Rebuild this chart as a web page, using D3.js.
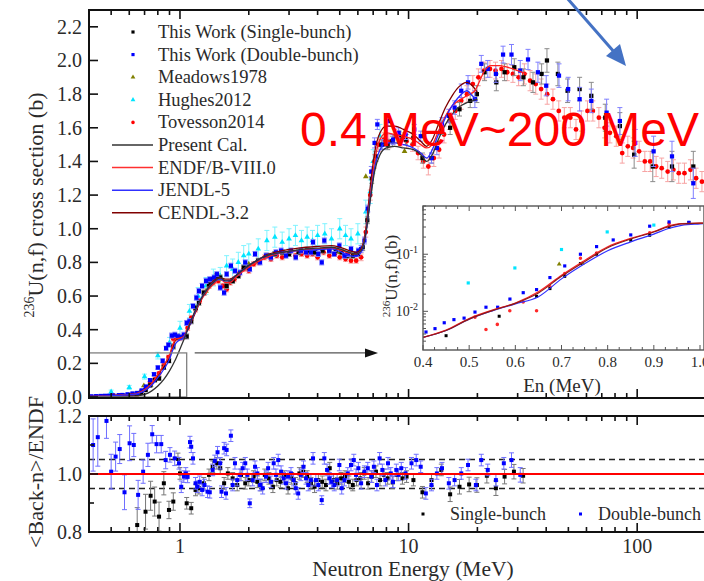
<!DOCTYPE html>
<html>
<head>
<meta charset="utf-8">
<script src="https://cdn.jsdelivr.net/npm/d3@7"></script>
<style>
  body { margin: 0; background: #fff; }
  svg { display: block; }
  text { font-family: "Liberation Serif", "Times New Roman", serif; fill: #2a2a2a; }
</style>
</head>
<body>
<svg id="chart" width="704" height="581"></svg>
<script>
// ---- data: [E (MeV), value, error] ----
const singleBunch = [
  [0.45,0.0037,0.002],[0.565,0.008,0.003],[0.646,0.018,0.004],[0.675,0.025,0.005],[0.707,0.041,0.006],
  [0.741,0.069,0.008],[0.776,0.10,0.01],[0.81,0.11,0.01],[0.85,0.176,0.012],[0.895,0.215,0.012],
  [0.935,0.30,0.015],[0.976,0.36,0.015],[1.0,0.355,0.015],[1.07,0.36,0.015],[1.12,0.45,0.015],
  [1.17,0.53,0.015],[1.21,0.56,0.015],[1.27,0.62,0.015],[1.34,0.67,0.015],[1.39,0.70,0.015],
  [1.45,0.72,0.015],[1.5,0.71,0.015],[1.6,0.66,0.015],[1.7,0.69,0.015],[1.8,0.72,0.015],
  [1.9,0.77,0.015],[2.0,0.77,0.015],[2.2,0.81,0.015],[2.4,0.84,0.015],[2.6,0.85,0.015],
  [2.8,0.86,0.015],[3.0,0.85,0.015],[3.3,0.86,0.015],[3.6,0.87,0.015],[3.9,0.86,0.015],
  [4.2,0.87,0.015],[4.5,0.87,0.015],[4.8,0.87,0.015],[5.1,0.86,0.015],[5.4,0.84,0.015],
  [5.7,0.84,0.015],[6.0,0.85,0.015],[6.3,0.89,0.02],[6.6,1.05,0.02],[6.9,1.30,0.03],
  [7.2,1.43,0.03],[7.6,1.50,0.03],[8.1,1.50,0.03],[8.5,1.52,0.03],[9.1,1.55,0.03],
  [9.7,1.53,0.03],[10.5,1.54,0.03],[11.5,1.42,0.03],[12.6,1.42,0.03],[13.9,1.60,0.04],
  [15.2,1.60,0.04],[16.7,1.71,0.04],[18.6,1.76,0.04],[19.9,1.80,0.05],[21.5,1.93,0.05],
  [24.2,1.87,0.05],[26.3,1.93,0.05],[29.0,1.96,0.05],[31.8,1.90,0.05],[35.0,1.87,0.06],
  [38.2,1.92,0.06],[40.3,2.00,0.07],[45.0,1.92,0.07],[49.6,1.82,0.07],[56.0,1.83,0.07],
  [63.0,1.79,0.08],[72.5,1.66,0.08],[84.0,1.61,0.08],[97.0,1.44,0.08],[117.0,1.37,0.09],
  [142.0,1.37,0.09],[176.0,1.37,0.09]
];
const doubleBunch = [
  [0.41,0.004,0.002],[0.43,0.005,0.002],[0.45,0.006,0.002],[0.47,0.007,0.002],[0.49,0.0075,0.002],
  [0.51,0.009,0.003],[0.54,0.011,0.003],[0.56,0.012,0.003],[0.59,0.016,0.004],[0.62,0.021,0.004],
  [0.65,0.024,0.005],[0.68,0.039,0.006],[0.71,0.062,0.007],[0.74,0.10,0.008],[0.77,0.135,0.01],
  [0.80,0.175,0.01],[0.84,0.215,0.012],[0.87,0.29,0.012],[0.89,0.31,0.012],[0.92,0.365,0.015],
  [0.95,0.37,0.015],[0.98,0.36,0.015],[1.01,0.355,0.015],[1.04,0.37,0.015],[1.07,0.44,0.015],
  [1.10,0.45,0.015],[1.14,0.54,0.015],[1.18,0.59,0.015],[1.21,0.63,0.015],[1.25,0.66,0.015],
  [1.30,0.69,0.015],[1.35,0.70,0.015],[1.41,0.71,0.015],[1.45,0.73,0.015],[1.50,0.65,0.015],
  [1.56,0.62,0.015],[1.60,0.73,0.015],[1.67,0.78,0.015],[1.74,0.75,0.015],[1.83,0.74,0.015],
  [1.93,0.80,0.015],[2.02,0.76,0.015],[2.13,0.85,0.015],[2.24,0.80,0.015],[2.38,0.84,0.015],
  [2.50,0.83,0.015],[2.63,0.86,0.015],[2.77,0.87,0.015],[2.91,0.84,0.015],[3.06,0.87,0.015],
  [3.21,0.83,0.015],[3.38,0.87,0.015],[3.56,0.86,0.015],[3.74,0.86,0.015],[3.82,0.92,0.015],
  [4.03,0.85,0.015],[4.17,0.80,0.015],[4.28,0.93,0.015],[4.50,0.87,0.015],[4.73,0.85,0.015],
  [4.98,0.90,0.015],[5.24,0.84,0.015],[5.42,0.85,0.015],[5.60,0.88,0.015],[5.89,0.85,0.015],
  [6.03,0.87,0.015],[6.20,0.88,0.02],[6.41,0.93,0.02],[6.63,1.12,0.02],[6.87,1.34,0.03],
  [7.10,1.51,0.03],[7.30,1.62,0.03],[7.70,1.50,0.03],[8.13,1.64,0.03],[8.55,1.53,0.03],
  [9.05,1.57,0.03],[9.70,1.56,0.03],[10.6,1.59,0.03],[11.3,1.55,0.03],[12.6,1.42,0.03],
  [13.3,1.48,0.04],[14.0,1.62,0.04],[15.0,1.67,0.04],[15.9,1.72,0.04],[17.0,1.82,0.04],
  [18.2,1.87,0.04],[19.5,1.77,0.05],[20.8,1.98,0.05],[22.2,1.95,0.05],[24.1,1.92,0.05],
  [25.9,2.035,0.05],[28.2,2.035,0.06],[30.8,1.94,0.06],[33.3,2.006,0.06],[36.8,1.93,0.06],
  [40.0,1.85,0.06],[45.5,1.91,0.07],[49.9,1.83,0.07],[56.0,1.77,0.07],[63.0,1.76,0.07],
  [73.5,1.69,0.08],[84.0,1.64,0.08],[98.0,1.51,0.08],[118.0,1.46,0.09],[142.0,1.43,0.09],
  [176.0,1.27,0.09]
];
const meadows1978 = [
  [0.695,0.067,0.004],[0.745,0.070,0.005],[0.80,0.12,0.006],[1.3,0.63,0.02],[1.5,0.70,0.02],
  [2.0,0.79,0.02],[3.0,0.86,0.02],[5.0,0.86,0.02],[6.5,1.31,0.03],[9.6,1.46,0.03]
];
const hughes2012 = [
  [0.5,0.031,0.01],[0.6,0.057,0.012],[0.7,0.121,0.015],[0.8,0.246,0.02],[0.9,0.324,0.03],
  [1.0,0.41,0.04],[1.1,0.51,0.04],[1.2,0.60,0.05],[1.3,0.66,0.05],[1.4,0.71,0.05],
  [1.5,0.72,0.05],[1.6,0.78,0.06],[1.7,0.76,0.06],[1.8,0.80,0.06],[1.9,0.84,0.06],
  [2.0,0.85,0.06],[2.2,0.88,0.06],[2.4,0.93,0.06],[2.6,0.95,0.06],[2.8,0.92,0.06],
  [3.0,0.94,0.06],[3.2,0.96,0.06],[3.4,0.93,0.06],[3.6,0.95,0.06],[3.8,0.93,0.06],
  [4.0,0.96,0.06],[4.3,0.97,0.06],[4.6,0.94,0.06],[5.0,1.00,0.06],[5.3,0.96,0.06],
  [5.6,0.94,0.06],[6.0,0.97,0.06],[6.5,1.10,0.07],[6.8,1.22,0.07],[7.0,1.40,0.07],[7.5,1.55,0.07]
];
const tovesson2014 = [
  [0.5126,0.0079,0.002],[0.536,0.0048,0.002],[0.561,0.0059,0.002],[0.588,0.0102,0.003],[0.617,0.0146,0.003],
  [0.646,0.0102,0.003],[0.675,0.027,0.004],[0.707,0.046,0.005],[0.741,0.085,0.006],[0.776,0.105,0.008],
  [0.81,0.14,0.01],[0.85,0.19,0.01],[0.891,0.237,0.012],[0.933,0.347,0.015],[0.97,0.35,0.015],
  [1.0,0.35,0.015],[1.04,0.36,0.015],[1.08,0.41,0.015],[1.12,0.47,0.015],[1.17,0.52,0.015],
  [1.22,0.57,0.015],[1.28,0.62,0.015],[1.34,0.66,0.015],[1.40,0.68,0.015],[1.47,0.69,0.015],
  [1.54,0.66,0.015],[1.60,0.64,0.015],[1.66,0.68,0.015],[1.73,0.70,0.015],[1.81,0.73,0.015],
  [1.9,0.76,0.015],[2.0,0.75,0.015],[2.1,0.79,0.015],[2.2,0.80,0.015],[2.35,0.83,0.015],
  [2.5,0.82,0.015],[2.65,0.84,0.015],[2.8,0.83,0.015],[3.0,0.85,0.015],[3.2,0.84,0.015],
  [3.4,0.85,0.015],[3.6,0.84,0.015],[3.8,0.85,0.015],[4.0,0.83,0.015],[4.25,0.86,0.015],
  [4.5,0.84,0.015],[4.75,0.85,0.015],[5.0,0.83,0.015],[5.3,0.82,0.015],[5.6,0.81,0.015],
  [5.9,0.81,0.015],[6.2,0.83,0.02],[6.5,0.98,0.03],[6.8,1.20,0.03],[7.1,1.40,0.04],
  [7.4,1.50,0.04],[7.8,1.53,0.04],[8.2,1.52,0.04],[8.7,1.55,0.04],[9.2,1.53,0.04],
  [9.8,1.52,0.04],[10.4,1.50,0.04],[11.0,1.45,0.04],[11.6,1.40,0.04],[12.2,1.37,0.05],
  [12.9,1.42,0.05],[13.6,1.47,0.05],[14.3,1.56,0.05],[15.1,1.64,0.05],[16.0,1.70,0.05],
  [17.0,1.76,0.05],[18.0,1.80,0.05],[19.1,1.86,0.05],[20.2,1.90,0.05],[21.4,1.94,0.05],
  [22.7,1.95,0.05],[24.0,1.94,0.05],[25.5,1.95,0.05],[27.0,1.93,0.05],[28.6,1.92,0.05],
  [30.3,1.90,0.05],[32.1,1.92,0.06],[34.0,1.88,0.06],[36.0,1.86,0.06],[38.0,1.83,0.06],
  [40.4,1.80,0.06],[42.8,1.77,0.06],[45.4,1.70,0.06],[48.0,1.66,0.06],[51.0,1.66,0.06],
  [54.0,1.59,0.06],[57.0,1.64,0.06],[60.6,1.70,0.06],[64.0,1.70,0.06],[68.0,1.66,0.06],
  [72.0,1.60,0.06],[76.0,1.57,0.06],[81.0,1.55,0.06],[86.0,1.45,0.06],[91.0,1.49,0.06],
  [96.0,1.48,0.06],[102.0,1.46,0.06],[108.0,1.40,0.06],[114.0,1.40,0.06],[121.0,1.37,0.06],
  [128.0,1.36,0.06],[136.0,1.34,0.06],[144.0,1.35,0.06],[152.0,1.33,0.06],[161.0,1.33,0.06],
  [171.0,1.35,0.06],[181.0,1.30,0.06],[192.0,1.28,0.06],[203.0,1.25,0.06]
];

// evaluated curves: [E, sigma]
const presentCal = [
  [0.4,0.0003],[0.55,0.001],[0.6,0.003],[0.65,0.007],[0.7,0.015],[0.75,0.035],[0.8,0.065],[0.85,0.105],
  [0.9,0.155],[0.95,0.215],[1.0,0.285],[1.05,0.355],[1.1,0.43],[1.2,0.55],[1.3,0.63],[1.4,0.68],
  [1.5,0.71],[1.58,0.69],[1.65,0.69],[1.75,0.72],[1.9,0.76],[2.1,0.80],[2.4,0.84],[2.8,0.86],
  [3.3,0.875],[4.0,0.885],[4.6,0.89],[5.0,0.88],[5.5,0.86],[5.9,0.85],[6.2,0.87],[6.5,0.97],
  [6.8,1.17],[7.1,1.34],[7.5,1.44],[8.0,1.48],[8.7,1.49],[9.5,1.48],[10.5,1.47],[11.3,1.44],
  [12.0,1.40],[12.7,1.44],[13.5,1.53],[14.5,1.62],[15.5,1.68],[16.5,1.72],[18.0,1.75],[19.0,1.76],[20.0,1.77]
];
const endfB8 = [
  [0.4,0.0035],[0.45,0.0047],[0.5,0.0075],[0.55,0.0105],[0.6,0.014],[0.65,0.022],[0.7,0.043],[0.75,0.078],
  [0.8,0.135],[0.85,0.19],[0.9,0.25],[0.93,0.31],[0.96,0.345],[1.0,0.35],[1.04,0.36],[1.08,0.41],
  [1.15,0.49],[1.22,0.56],[1.3,0.62],[1.4,0.67],[1.5,0.70],[1.58,0.68],[1.65,0.68],[1.75,0.71],
  [1.9,0.75],[2.1,0.79],[2.4,0.83],[2.8,0.86],[3.3,0.87],[4.0,0.88],[4.6,0.885],[5.0,0.875],
  [5.5,0.855],[5.9,0.85],[6.2,0.87],[6.5,0.98],[6.8,1.20],[7.1,1.40],[7.5,1.53],[8.0,1.57],
  [8.7,1.56],[9.5,1.55],[10.5,1.53],[11.3,1.50],[12.0,1.48],[12.7,1.50],[13.5,1.58],[14.5,1.67],
  [15.5,1.73],[16.5,1.76],[18.0,1.79],[19.5,1.82],[20.5,1.88],[21.5,1.94],[23.0,1.97],[25.0,1.97],
  [27.0,1.96],[30.0,1.94],[33.0,1.92]
];
const jendl5 = [
  [0.4,0.0035],[0.45,0.0046],[0.5,0.0073],[0.55,0.0102],[0.6,0.0135],[0.65,0.018],[0.7,0.037],[0.75,0.068],
  [0.8,0.115],[0.85,0.165],[0.9,0.225],[0.93,0.28],[0.96,0.32],[1.0,0.34],[1.04,0.355],[1.08,0.40],
  [1.15,0.49],[1.22,0.57],[1.3,0.63],[1.4,0.68],[1.5,0.70],[1.58,0.69],[1.65,0.69],[1.75,0.72],
  [1.9,0.76],[2.1,0.80],[2.4,0.84],[2.8,0.86],[3.3,0.87],[4.0,0.875],[4.6,0.88],[5.0,0.865],
  [5.5,0.84],[5.9,0.835],[6.2,0.86],[6.5,0.97],[6.8,1.18],[7.1,1.36],[7.5,1.47],[8.0,1.51],
  [8.7,1.51],[9.5,1.50],[10.5,1.48],[11.3,1.45],[12.0,1.42],[12.7,1.47],[13.5,1.56],[14.5,1.66],
  [15.5,1.73],[16.5,1.78],[18.0,1.82],[19.0,1.79],[20.0,1.76]
];
const cendl32 = [
  [0.4,0.0035],[0.45,0.0046],[0.5,0.0073],[0.55,0.0103],[0.6,0.0138],[0.65,0.021],[0.7,0.041],[0.75,0.074],
  [0.8,0.13],[0.85,0.185],[0.9,0.245],[0.93,0.30],[0.96,0.34],[1.0,0.35],[1.04,0.36],[1.08,0.40],
  [1.15,0.48],[1.22,0.56],[1.3,0.63],[1.4,0.69],[1.5,0.71],[1.58,0.70],[1.65,0.70],[1.75,0.72],
  [1.9,0.76],[2.1,0.80],[2.4,0.845],[2.8,0.87],[3.3,0.885],[4.0,0.895],[4.6,0.90],[5.0,0.89],
  [5.5,0.87],[5.9,0.86],[6.2,0.88],[6.5,1.0],[6.8,1.25],[7.1,1.45],[7.5,1.57],[8.0,1.61],
  [8.7,1.61],[9.5,1.59],[10.5,1.56],[11.3,1.52],[12.0,1.49],[12.7,1.53],[13.5,1.62],[14.5,1.72],
  [15.5,1.79],[16.5,1.84],[18.0,1.87],[19.0,1.85],[20.0,1.81]
];

// inset (0.4 - 1 MeV, log scale)
const insetSingle = [
  [0.45,0.00374],[0.565,0.0082],[0.646,0.0183],[0.675,0.025],[0.707,0.041],[0.741,0.0686],
  [0.776,0.10],[0.85,0.176],[0.891,0.215],[0.933,0.30],[0.976,0.36]
];
const insetDouble = [
  [0.4065,0.00434],[0.426,0.00497],[0.446,0.0063],[0.467,0.00715],[0.489,0.0076],[0.5126,0.0097],
  [0.5364,0.0118],[0.5617,0.0118],[0.5883,0.0164],[0.6171,0.0212],[0.646,0.024],[0.6749,0.039],
  [0.707,0.0624],[0.741,0.10],[0.776,0.136],[0.812,0.178],[0.85,0.218],[0.891,0.31],[0.933,0.368],[0.976,0.363]
];
const insetMeadows = [[0.695,0.0668],[0.745,0.069]];
const insetHughes = [[0.498,0.0314],[0.599,0.0575],[0.70,0.121],[0.799,0.246],[0.90,0.324]];
const insetTovesson = [
  [0.5126,0.0079],[0.5364,0.0048],[0.561,0.0059],[0.588,0.0102],[0.617,0.0146],[0.646,0.0102],
  [0.675,0.027],[0.707,0.046],[0.741,0.085],[0.776,0.105],[0.891,0.237],[0.933,0.347]
];

// ratio panel: [E, <Back-n>/ENDF, error]
const ratioSingle = [
  [0.65,0.824,0.06],[0.707,0.87,0.06],[0.744,0.925,0.05],[0.775,0.905,0.05],[0.81,0.853,0.05],
  [0.85,0.968,0.04],[0.895,0.876,0.03],[0.935,0.905,0.03],[0.98,1.052,0.02],[1.0,1.002,0.02],
  [1.07,0.899,0.02],[1.12,0.882,0.02],[1.17,0.945,0.02],[1.21,0.951,0.02],[1.27,0.968,0.02],
  [1.34,0.997,0.02],[1.39,1.025,0.02],[1.45,1.037,0.02],[1.5,1.02,0.02],[1.56,0.968,0.02],
  [1.62,1.002,0.02],[1.7,0.985,0.02],[1.78,0.962,0.02],[1.85,0.997,0.02],[1.93,0.968,0.02],
  [2.0,0.979,0.02],[2.1,0.991,0.02],[2.18,0.973,0.02],[2.26,0.962,0.02],[2.35,0.997,0.02],
  [2.45,0.985,0.02],[2.55,0.956,0.02],[2.65,0.979,0.02],[2.75,0.973,0.02],[2.86,0.991,0.02],
  [2.97,0.951,0.02],[3.08,0.985,0.02],[3.2,0.968,0.02],[3.33,1.002,0.02],[3.46,1.008,0.02],
  [3.6,0.991,0.02],[3.74,0.968,0.02],[3.88,0.956,0.02],[4.03,0.979,0.02],[4.19,0.973,0.02],
  [4.35,0.962,0.02],[4.52,1.02,0.02],[4.7,0.979,0.02],[4.88,0.968,0.02],[5.07,0.985,0.02],
  [5.27,0.991,0.02],[5.48,0.973,0.02],[5.7,0.962,0.02],[5.92,0.979,0.02],[6.15,0.985,0.02],
  [6.4,1.002,0.02],[6.65,0.968,0.02],[6.9,0.991,0.02],[7.2,1.008,0.02],[7.5,0.979,0.02],
  [7.8,0.997,0.02],[8.1,0.985,0.02],[8.52,0.971,0.02],[8.9,0.997,0.02],[9.4,0.985,0.02],
  [9.8,0.991,0.02],[10.5,0.979,0.02],[11.5,0.937,0.02],[12.6,0.979,0.02],[13.9,1.014,0.02],
  [15.2,0.93,0.025],[16.7,0.956,0.025],[18.4,0.964,0.025],[19.9,0.962,0.025],[22.0,0.994,0.025],
  [24.1,0.951,0.025],[26.3,0.991,0.025],[28.9,1.008,0.025],[31.7,0.994,0.025]
];
const ratioDouble = [
  [0.417,1.10,0.09],[0.437,1.127,0.10],[0.477,1.183,0.06],[0.50,1.008,0.06],[0.523,1.06,0.05],
  [0.545,1.086,0.05],[0.572,0.937,0.06],[0.602,1.106,0.06],[0.628,1.10,0.04],[0.656,0.928,0.05],
  [0.69,1.008,0.04],[0.724,1.066,0.04],[0.756,1.137,0.03],[0.79,1.103,0.03],[0.828,1.103,0.03],
  [0.866,1.048,0.03],[0.904,1.066,0.025],[0.948,1.054,0.025],[0.99,1.037,0.02],[1.013,0.956,0.02],
  [1.04,0.991,0.02],[1.06,1.002,0.02],[1.08,0.99,0.02],[1.106,1.11,0.02],[1.12,1.094,0.02],
  [1.14,1.054,0.02],[1.17,0.968,0.02],[1.19,0.956,0.02],[1.22,0.973,0.02],[1.25,0.945,0.02],
  [1.28,0.962,0.02],[1.32,0.939,0.02],[1.35,0.937,0.02],[1.39,1.014,0.02],[1.42,1.045,0.02],
  [1.46,1.075,0.02],[1.5,1.037,0.02],[1.52,0.939,0.02],[1.56,1.089,0.02],[1.59,0.933,0.02],
  [1.6,1.083,0.02],[1.67,1.132,0.02],[1.7,0.962,0.02],[1.74,1.037,0.02],[1.78,0.979,0.02],
  [1.83,0.997,0.02],[1.88,1.02,0.02],[1.93,1.037,0.02],[1.97,0.997,0.02],[2.02,0.899,0.015],
  [2.08,0.979,0.02],[2.13,1.025,0.02],[2.18,1.002,0.02],[2.24,0.962,0.02],[2.3,0.951,0.02],
  [2.38,0.991,0.02],[2.43,1.02,0.02],[2.5,0.973,0.02],[2.57,1.037,0.02],[2.63,0.997,0.02],
  [2.69,1.048,0.02],[2.77,1.008,0.02],[2.84,0.985,0.02],[2.91,0.968,0.02],[2.97,0.991,0.02],
  [3.06,1.002,0.02],[3.14,0.979,0.02],[3.21,0.951,0.02],[3.29,0.933,0.02],[3.38,0.997,0.02],
  [3.47,1.025,0.02],[3.56,0.985,0.02],[3.64,0.962,0.02],[3.74,0.979,0.02],[3.82,1.054,0.02],
  [3.93,0.979,0.02],[4.03,0.962,0.02],[4.17,0.91,0.015],[4.28,1.054,0.02],[4.4,1.014,0.02],
  [4.5,0.985,0.02],[4.6,0.973,0.02],[4.73,0.962,0.02],[4.87,0.979,0.02],[4.98,1.031,0.02],
  [5.1,0.951,0.02],[5.24,0.979,0.02],[5.42,1.002,0.02],[5.6,1.031,0.02],[5.76,1.048,0.02],
  [5.89,0.997,0.02],[6.03,1.02,0.02],[6.2,0.968,0.02],[6.41,1.008,0.02],[6.63,1.02,0.02],
  [6.87,0.991,0.02],[7.05,1.025,0.02],[7.27,0.962,0.02],[7.47,1.054,0.02],[7.68,1.014,0.02],
  [7.92,0.979,0.02],[8.13,1.037,0.02],[8.36,1.002,0.02],[8.55,0.973,0.02],[8.84,1.014,0.02],
  [9.05,0.997,0.02],[9.29,1.02,0.02],[9.7,1.002,0.02],[10.3,1.037,0.02],[10.8,1.048,0.02],
  [11.3,1.025,0.02],[11.9,0.933,0.02],[12.6,0.962,0.02],[13.3,1.002,0.02],[14.0,1.02,0.02],
  [15.0,0.968,0.02],[15.9,0.979,0.02],[17.0,1.002,0.02],[18.2,1.031,0.02],[19.7,0.962,0.02],
  [20.8,1.048,0.02],[22.2,1.014,0.02],[24.1,0.979,0.02],[26.1,1.037,0.02],[28.2,1.048,0.025],
  [30.8,0.997,0.025]
];

const yTopTicks = [0, 0.2, 0.4, 0.6, 0.8, 1.0, 1.2, 1.4, 1.6, 1.8, 2.0, 2.2];
const yBotTicks = [0.8, 1.0, 1.2];
const xMajor = [1, 10, 100];
const insetXTicks = [0.4, 0.5, 0.6, 0.7, 0.8, 0.9, 1.0];
const insetYTicks = [0.01, 0.1];

const legendItems = [
  { label: 'This Work (Single-bunch)', kind: 'square', color: '#000' },
  { label: 'This Work (Double-bunch)', kind: 'square', color: '#0000ff' },
  { label: 'Meadows1978', kind: 'triangle', color: '#808000' },
  { label: 'Hughes2012', kind: 'triangle', color: '#00e5ff' },
  { label: 'Tovesson2014', kind: 'circle', color: '#ff0000' },
  { label: 'Present Cal.', kind: 'line', color: '#333' },
  { label: 'ENDF/B-VIII.0', kind: 'line', color: '#ff3030' },
  { label: 'JENDL-5', kind: 'line', color: '#3030ff' },
  { label: 'CENDL-3.2', kind: 'line', color: '#800000' }
];

// ---- scales ----
const svg = d3.select('#chart');
const x = d3.scaleLog().domain([0.4, 200]).range([89, 706]);
const yTop = d3.scaleLinear().domain([0, 2.3]).range([397, 10]);
const yBot = d3.scaleLinear().domain([0.8, 1.2]).range([532, 416]);
const xi = d3.scaleLinear().domain([0.4, 1.0]).range([423, 700]);
const yi = d3.scaleLog().domain([0.0021, 0.7]).range([350, 206]);

const defs = svg.append('defs');
defs.append('clipPath').attr('id', 'clipTop').append('rect')
  .attr('x', 89).attr('y', 10).attr('width', 617).attr('height', 387);
defs.append('clipPath').attr('id', 'clipBot').append('rect')
  .attr('x', 89).attr('y', 416).attr('width', 617).attr('height', 116);
defs.append('clipPath').attr('id', 'clipIn').append('rect')
  .attr('x', 423).attr('y', 206).attr('width', 280).attr('height', 144);

const symbolOf = kind => kind === 'circle' ? d3.symbolCircle
  : kind === 'triangle' ? d3.symbolTriangle : d3.symbolSquare;

// error bars + markers
const drawSeries = (g, data, xs, ys, color, errColor, kind, size, cap) => {
  if (errColor) {
    g.append('g').selectAll('path').data(data.filter(d => d[2])).join('path')
      .attr('d', d => {
        const X = xs(d[0]), a = ys(Math.max(d[1] - d[2], 1e-4)), b = ys(d[1] + d[2]);
        return `M${X},${a}V${b}M${X - cap},${a}h${2 * cap}M${X - cap},${b}h${2 * cap}`;
      })
      .attr('stroke', errColor).attr('stroke-width', 1).attr('fill', 'none');
  }
  g.append('g').selectAll('path').data(data).join('path')
    .attr('transform', d => `translate(${xs(d[0])},${ys(d[1])})`)
    .attr('d', d3.symbol().type(symbolOf(kind)).size(size))
    .attr('fill', color);
};

const drawCurve = (g, data, xs, ys, color, w) => {
  g.append('path').datum(data)
    .attr('d', d3.line().x(d => xs(d[0])).y(d => ys(d[1])).curve(d3.curveMonotoneX))
    .attr('fill', 'none').attr('stroke', color).attr('stroke-width', w || 1.3);
};

// ---- top panel ----
const topG = svg.append('g').attr('clip-path', 'url(#clipTop)');
drawSeries(topG, hughes2012, x, yTop, '#00e5ff', '#7ff3ff', 'triangle', 14, 2.5);
drawSeries(topG, tovesson2014, x, yTop, '#ff0000', '#f7a3a3', 'circle', 18, 2.5);
drawSeries(topG, meadows1978, x, yTop, '#808000', null, 'triangle', 14, 2);
drawSeries(topG, singleBunch, x, yTop, '#000', '#8a8a8a', 'square', 18, 2.5);
drawSeries(topG, doubleBunch, x, yTop, '#0000ff', '#7f7fff', 'square', 18, 2.5);
drawCurve(topG, cendl32, x, yTop, '#800000');
drawCurve(topG, endfB8, x, yTop, '#ff2020');
drawCurve(topG, jendl5, x, yTop, '#2a2aff');
drawCurve(topG, presentCal, x, yTop, '#333');

// zoom box and arrow
topG.append('rect')
  .attr('x', x(0.4)).attr('y', yTop(0.262))
  .attr('width', x(1.07) - x(0.4)).attr('height', yTop(0) - yTop(0.262))
  .attr('fill', 'none').attr('stroke', '#808080').attr('stroke-width', 1.3);
svg.append('line')
  .attr('x1', x(1.16)).attr('x2', x(7.0)).attr('y1', yTop(0.262)).attr('y2', yTop(0.262))
  .attr('stroke', '#555').attr('stroke-width', 1.2);
svg.append('path')
  .attr('d', `M${x(7.35)},${yTop(0.262)}l-13,-4.5v9z`).attr('fill', '#111');

// ---- axes helper ----
const frame = (y0, y1) => svg.append('rect')
  .attr('x', 89).attr('y', y0).attr('width', 617).attr('height', y1 - y0)
  .attr('fill', 'none').attr('stroke', '#111').attr('stroke-width', 2);

const xTicks = (yPos, dir) => {
  const g = svg.append('g');
  const all = x.ticks();
  g.selectAll('line').data(all).join('line')
    .attr('x1', d => x(d)).attr('x2', d => x(d))
    .attr('y1', yPos).attr('y2', d => yPos + dir * (xMajor.includes(d) ? 9 : 5))
    .attr('stroke', '#111').attr('stroke-width', 1.6);
};

frame(10, 398);
xTicks(10, 1);
xTicks(398, -1);
svg.append('g').selectAll('line').data(yTopTicks).join('line')
  .attr('x1', 89).attr('x2', 98).attr('y1', d => yTop(d)).attr('y2', d => yTop(d))
  .attr('stroke', '#111').attr('stroke-width', 1.6);
svg.append('g').selectAll('text').data(yTopTicks).join('text')
  .attr('x', 82).attr('y', d => yTop(d) + 7).attr('text-anchor', 'end')
  .attr('font-size', 20).text(d3.format('.1f'));

// ---- bottom panel ----
const botG = svg.append('g').attr('clip-path', 'url(#clipBot)');
[0.95, 1.05].forEach(v => botG.append('line')
  .attr('x1', 89).attr('x2', 706).attr('y1', yBot(v)).attr('y2', yBot(v))
  .attr('stroke', '#222').attr('stroke-width', 1.3).attr('stroke-dasharray', '6,4'));
drawSeries(botG, ratioSingle, x, yBot, '#000', '#777', 'square', 16, 2.5);
drawSeries(botG, ratioDouble, x, yBot, '#0000ff', '#6f6fff', 'square', 16, 2.5);
botG.append('line')
  .attr('x1', 89).attr('x2', 706).attr('y1', yBot(1)).attr('y2', yBot(1))
  .attr('stroke', '#ff0000').attr('stroke-width', 2.2);

frame(416, 532);
xTicks(416, 1);
xTicks(532, -1);
svg.append('g').selectAll('line').data([0.8, 0.9, 1.0, 1.1, 1.2]).join('line')
  .attr('x1', 89).attr('x2', d => yBotTicks.includes(d) ? 98 : 94)
  .attr('y1', d => yBot(d)).attr('y2', d => yBot(d))
  .attr('stroke', '#111').attr('stroke-width', 1.6);
svg.append('g').selectAll('text').data(yBotTicks).join('text')
  .attr('x', 82).attr('y', d => yBot(d) + 7).attr('text-anchor', 'end')
  .attr('font-size', 20).text(d3.format('.1f'));
svg.append('g').selectAll('text').data(xMajor).join('text')
  .attr('x', d => x(d)).attr('y', 553).attr('text-anchor', 'middle')
  .attr('font-size', 20).text(d => d);

// bottom legend
svg.append('rect').attr('x', 421.5).attr('y', 512.5).attr('width', 3).attr('height', 3).attr('fill', '#000');
svg.append('text').attr('x', 450).attr('y', 520).attr('font-size', 18).text('Single-bunch');
svg.append('rect').attr('x', 579).attr('y', 512.5).attr('width', 3).attr('height', 3).attr('fill', '#0000ff');
svg.append('text').attr('x', 598).attr('y', 520).attr('font-size', 18).text('Double-bunch');

// axis titles
svg.append('text').attr('x', 413).attr('y', 576).attr('text-anchor', 'middle')
  .attr('font-size', 21.5).text('Neutron Energy (MeV)');
const yt = svg.append('text').attr('transform', 'translate(43,205) rotate(-90)')
  .attr('text-anchor', 'middle').attr('font-size', 22);
yt.append('tspan').attr('font-size', 14).attr('dy', -9).text('236');
yt.append('tspan').attr('dy', 9).text('U(n,f) cross section (b)');
svg.append('text').attr('transform', 'translate(43,472) rotate(-90)')
  .attr('text-anchor', 'middle').attr('font-size', 22).text('<Back-n>/ENDF');

// ---- top legend ----
const leg = svg.append('g');
legendItems.forEach((d, i) => {
  const cy = 32 + i * 22.6;
  if (d.kind === 'line') {
    leg.append('line').attr('x1', 112).attr('x2', 153).attr('y1', cy).attr('y2', cy)
      .attr('stroke', d.color).attr('stroke-width', 1.5);
  } else {
    leg.append('path').attr('transform', `translate(133,${cy})`)
      .attr('d', d3.symbol().type(symbolOf(d.kind)).size(10)).attr('fill', d.color);
  }
  leg.append('text').attr('x', 158).attr('y', cy + 6).attr('font-size', 18.5).text(d.label);
});

// ---- inset ----
const ins = svg.append('g');
ins.append('rect').attr('x', 423).attr('y', 206).attr('width', 281).attr('height', 144)
  .attr('fill', '#fff');
const insC = ins.append('g').attr('clip-path', 'url(#clipIn)');
drawSeries(insC, insetHughes, xi, yi, '#00e5ff', null, 'square', 10, 0);
drawSeries(insC, insetTovesson, xi, yi, '#ff2a2a', null, 'circle', 10, 0);
drawSeries(insC, insetMeadows, xi, yi, '#808000', null, 'triangle', 10, 0);
drawSeries(insC, insetSingle, xi, yi, '#000', null, 'square', 9, 0);
drawSeries(insC, insetDouble, xi, yi, '#0000ff', null, 'square', 10, 0);
drawCurve(insC, jendl5.filter(d => d[0] <= 1.05), xi, yi, '#3030ff', 1.2);
drawCurve(insC, endfB8.filter(d => d[0] <= 1.05), xi, yi, '#ff2020', 1.2);
drawCurve(insC, cendl32.filter(d => d[0] <= 1.05), xi, yi, '#8b1a1a', 1.2);
ins.append('rect').attr('x', 423).attr('y', 206).attr('width', 281).attr('height', 144)
  .attr('fill', 'none').attr('stroke', '#555').attr('stroke-width', 1.4);

const inMinorX = d3.range(0.4, 1.0001, 0.025);
ins.append('g').selectAll('line').data(inMinorX).join('line')
  .attr('x1', d => xi(d)).attr('x2', d => xi(d))
  .attr('y1', 350).attr('y2', (d, i) => 350 - (i % 4 === 0 ? 5 : 3))
  .attr('stroke', '#555');
ins.append('g').selectAll('line').data(inMinorX).join('line')
  .attr('x1', d => xi(d)).attr('x2', d => xi(d))
  .attr('y1', 206).attr('y2', (d, i) => 206 + (i % 4 === 0 ? 5 : 3))
  .attr('stroke', '#555');
ins.append('g').selectAll('line').data(yi.ticks()).join('line')
  .attr('x1', 423).attr('x2', d => 423 + (insetYTicks.includes(d) ? 5 : 3))
  .attr('y1', d => yi(d)).attr('y2', d => yi(d))
  .attr('stroke', '#555');
ins.append('g').selectAll('text').data(insetXTicks).join('text')
  .attr('x', d => xi(d)).attr('y', 367).attr('text-anchor', 'middle')
  .attr('font-size', 15).attr('fill', '#444').text(d3.format('.1f'));
insetYTicks.forEach(v => {
  const t = ins.append('text').attr('x', 418).attr('y', yi(v) + 5).attr('text-anchor', 'end')
    .attr('font-size', 14).attr('fill', '#444');
  t.append('tspan').text('10');
  t.append('tspan').attr('font-size', 10).attr('dy', -6).text(v === 0.1 ? '-1' : '-2');
});
ins.append('text').attr('x', 562).attr('y', 392).attr('text-anchor', 'middle')
  .attr('font-size', 19).text('En (MeV)');
const iyt = ins.append('text').attr('transform', 'translate(397,276) rotate(-90)')
  .attr('text-anchor', 'middle').attr('font-size', 17);
iyt.append('tspan').attr('font-size', 11).attr('dy', -7).text('236');
iyt.append('tspan').attr('dy', 7).text('U(n,f) (b)');

// ---- annotation ----
svg.append('text').attr('x', 300).attr('y', 146)
  .style('font-family', '"Liberation Sans", Arial, sans-serif')
  .attr('font-size', 48).style('fill', '#ff0000').text('0.4 MeV~200 MeV');
svg.append('line').attr('x1', 567).attr('y1', -2).attr('x2', 615).attr('y2', 53)
  .attr('stroke', '#4472c4').attr('stroke-width', 3);
svg.append('path').attr('d', 'M626,66 L606,56 L620,44 Z').attr('fill', '#4472c4');
</script>
</body>
</html>
